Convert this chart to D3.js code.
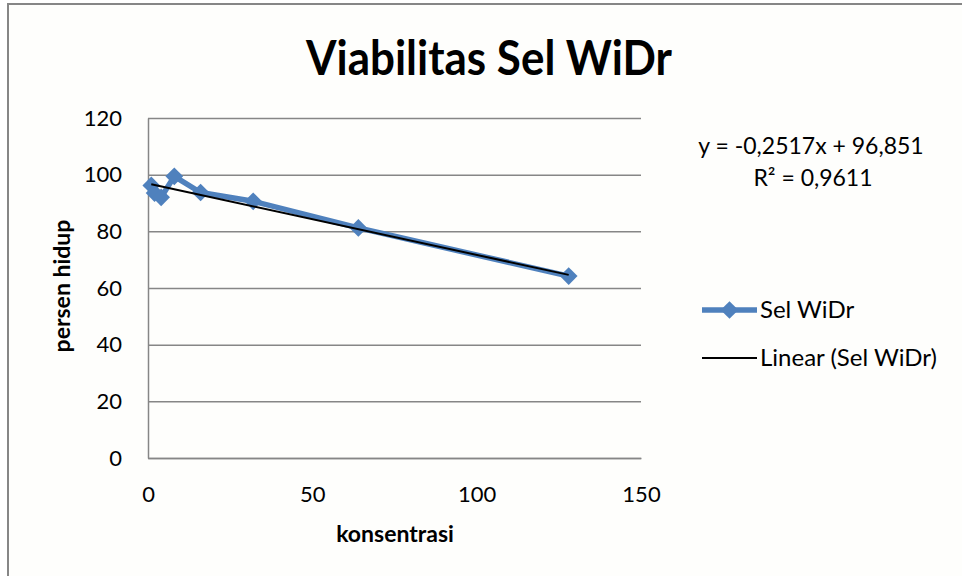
<!DOCTYPE html>
<html>
<head>
<meta charset="utf-8">
<script src="https://d3js.org/d3.v7.min.js"></script>
<style>
  html, body { margin: 0; background: #ffffff; overflow: hidden; }
  svg { display: block; }
  text { font-family: Lato, "Open Sans", sans-serif; fill: #000; }
  .axis path, .axis line { stroke: #868686; }
  .grid line { stroke: #868686; stroke-width: 1.5px; }
  .grid path { display: none; }
</style>
</head>
<body>
<div id="chart"></div>
<script>
// data
const konsentrasi = [1, 2, 4, 8, 16, 32, 64, 128];
const persenHidup = [96.2, 93.5, 92.0, 99.4, 93.7, 90.6, 81.2, 64.2];
const xTicks = [0, 50, 100, 150];
const yTicks = [0, 20, 40, 60, 80, 100, 120];
const slope = -0.2517;
const intercept = 96.851;
const equationText = "y = -0,2517x + 96,851";
const r2Text = "R² = 0,9611";
const seriesName = "Sel WiDr";
const trendName = "Linear (Sel WiDr)";

const width = 962, height = 576;
const margin = { top: 118, right: 321, bottom: 118, left: 148 };
const plotW = width - margin.left - margin.right;
const plotH = height - margin.top - margin.bottom;

const svg = d3.select("#chart").append("svg")
    .attr("width", width)
    .attr("height", height);

// chart area border (only top and left fall inside the window)
svg.append("rect")
    .attr("x", 8).attr("y", 4)
    .attr("width", width * 2).attr("height", height * 2)
    .attr("fill", "#fefefc")
    .attr("stroke", "#868686")
    .attr("stroke-width", 2);

const x = d3.scaleLinear().domain([0, 150]).range([0, plotW]);
const y = d3.scaleLinear().domain([0, 120]).range([plotH, 0]);

const g = svg.append("g")
    .attr("transform", `translate(${margin.left},${margin.top})`);

// horizontal gridlines
g.append("g")
    .attr("class", "grid")
    .call(d3.axisLeft(y).tickValues(yTicks).tickSize(-plotW).tickFormat(""));

// y axis
const yAxis = g.append("g")
    .attr("class", "axis")
    .call(d3.axisLeft(y).tickValues(yTicks).tickSize(0).tickPadding(26));
yAxis.select(".domain").attr("stroke", "#868686").attr("stroke-width", 1.5);
yAxis.selectAll("text").style("font-size", "22px");

// x axis
const xAxis = g.append("g")
    .attr("class", "axis")
    .attr("transform", `translate(0,${plotH})`)
    .call(d3.axisBottom(x).tickValues(xTicks).tickSize(0).tickPadding(28));
xAxis.select(".domain").attr("stroke", "#868686").attr("stroke-width", 1.5);
xAxis.selectAll("text").style("font-size", "22px");

// series line
const points = konsentrasi.map((k, i) => ({ k, p: persenHidup[i] }));
const line = d3.line().x(d => x(d.k)).y(d => y(d.p));

g.append("path")
    .datum(points)
    .attr("fill", "none")
    .attr("stroke", "#4f81bd")
    .attr("stroke-width", 5.5)
    .attr("stroke-linejoin", "round")
    .attr("d", line);

const diamond = d3.symbol().type(d3.symbolDiamond2).size(200);

g.selectAll(".marker")
    .data(points)
    .enter().append("path")
    .attr("class", "marker")
    .attr("d", diamond)
    .attr("transform", d => `translate(${x(d.k)},${y(d.p)})`)
    .attr("fill", "#4f81bd");

// linear trendline
const xMin = d3.min(konsentrasi), xMax = d3.max(konsentrasi);
g.append("line")
    .attr("x1", x(xMin)).attr("y1", y(slope * xMin + intercept))
    .attr("x2", x(xMax)).attr("y2", y(slope * xMax + intercept))
    .attr("stroke", "#000")
    .attr("stroke-width", 2);

// title
svg.append("text")
    .attr("x", 489).attr("y", 75)
    .attr("text-anchor", "middle")
    .style("font-size", "47px")
    .style("font-weight", "bold")
    .attr("textLength", 366)
    .attr("lengthAdjust", "spacingAndGlyphs")
    .text("Viabilitas Sel WiDr");

// axis titles
svg.append("text")
    .attr("x", 395).attr("y", 542)
    .attr("text-anchor", "middle")
    .style("font-size", "23px")
    .style("font-weight", "bold")
    .text("konsentrasi");

svg.append("text")
    .attr("transform", "translate(70,286) rotate(-90)")
    .attr("text-anchor", "middle")
    .style("font-size", "23px")
    .style("font-weight", "bold")
    .text("persen hidup");

// trendline equation
svg.append("text")
    .attr("x", 811).attr("y", 154)
    .attr("text-anchor", "middle")
    .style("font-size", "23px")
    .text(equationText);
svg.append("text")
    .attr("x", 813).attr("y", 186)
    .attr("text-anchor", "middle")
    .style("font-size", "23px")
    .text(r2Text);

// legend
const legend = svg.append("g").attr("transform", "translate(702,310)");
legend.append("line")
    .attr("x1", 0).attr("x2", 55).attr("y1", 0).attr("y2", 0)
    .attr("stroke", "#4f81bd").attr("stroke-width", 5.5);
legend.append("path")
    .attr("d", diamond)
    .attr("transform", "translate(27.5,0)")
    .attr("fill", "#4f81bd");
legend.append("text")
    .attr("x", 58).attr("y", 8)
    .style("font-size", "24px")
    .text(seriesName);

legend.append("line")
    .attr("x1", 0).attr("x2", 55).attr("y1", 48).attr("y2", 48)
    .attr("stroke", "#000").attr("stroke-width", 2);
legend.append("text")
    .attr("x", 58).attr("y", 56)
    .style("font-size", "24px")
    .text(trendName);
</script>
</body>
</html>
